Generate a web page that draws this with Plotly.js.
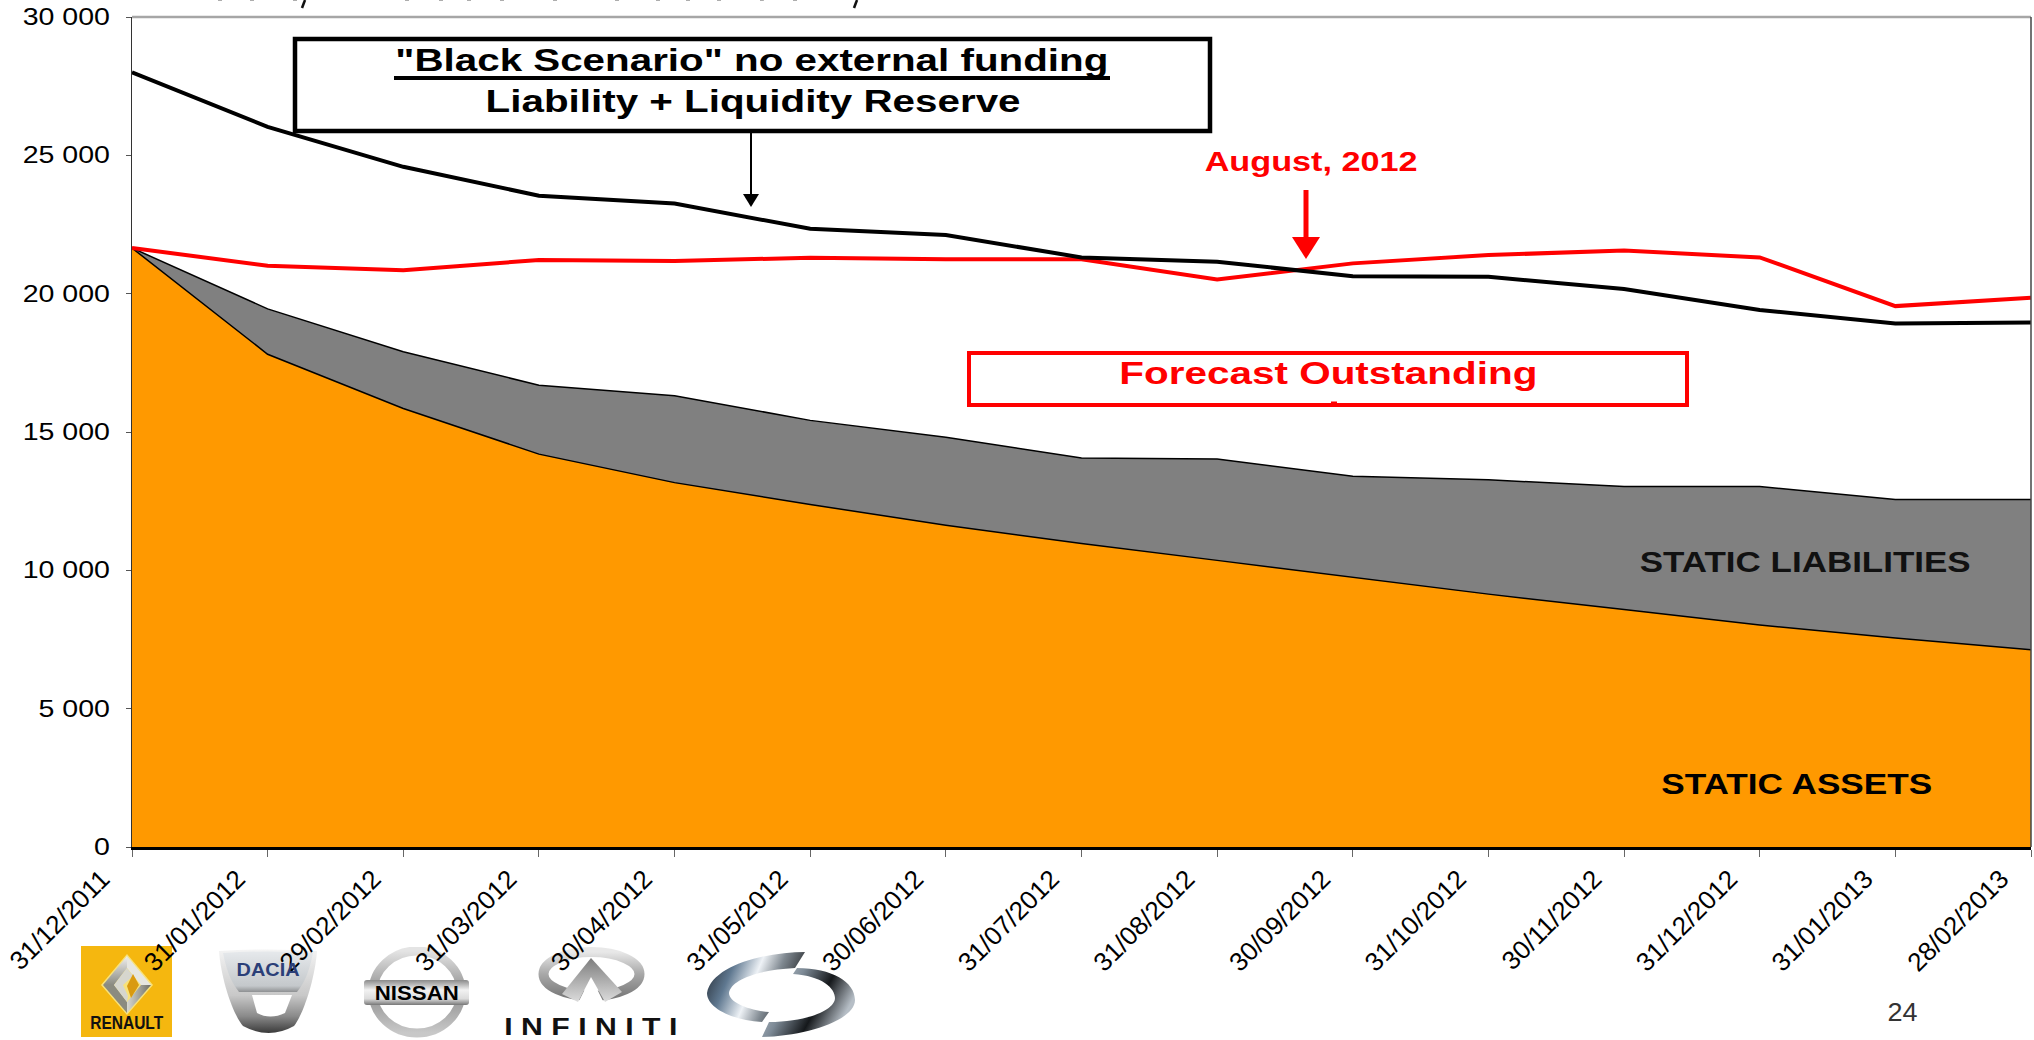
<!DOCTYPE html>
<html>
<head>
<meta charset="utf-8">
<script src="https://cdn.plot.ly/plotly-3.0.1.min.js"></script>
<style>html,body{margin:0;padding:0;background:#fff}#chart{width:2034px;height:1040px}</style>
</head>
<body>
<div id="chart"></div>
<script>
// Month-end reporting dates
const dates = ["31/12/2011","31/01/2012","29/02/2012","31/03/2012","30/04/2012","31/05/2012","30/06/2012","31/07/2012","31/08/2012","30/09/2012","31/10/2012","30/11/2012","31/12/2012","31/01/2013","28/02/2013"];
// Outstanding amounts per date
const staticAssets      = [21650,17810,15850,14200,13170,12380,11630,10970,10360,9750,9140,8580,8020,7550,7130];
const staticLiabilities = [21650,19450,17900,16690,16310,15420,14810,14060,14020,13400,13270,13030,13030,12560,12560];
const forecastOutstanding = [21650,21010,20850,21215,21180,21300,21240,21240,20510,21095,21395,21560,21310,19550,19850];
const blackScenario     = [28000,26030,24585,23540,23260,22345,22120,21310,21155,20630,20610,20165,19410,18925,18960];
const yTickValues = [0,5000,10000,15000,20000,25000,30000];
const yTickLabels = ["0","5 000","10 000","15 000","20 000","25 000","30 000"];

// Frame of the plot area in page pixels, with converters to paper coordinates
const W = 2034, H = 1040, L = 132, R = 2031, T = 17, B = 847;
const px = x => (x - L) / (R - L);
const py = y => (B - y) / (B - T);
const FONT = '"Liberation Sans", Arial, sans-serif';

const line = (x0, y0, x1, y1, color, width) => ({
  type: 'line', xref: 'paper', yref: 'paper', layer: 'above',
  x0: px(x0), x1: px(x1), y0: py(y0), y1: py(y1), line: {color, width}
});
const box = (x0, y0, x1, y1, color, width) => ({
  type: 'rect', xref: 'paper', yref: 'paper', layer: 'above',
  x0: px(x0), x1: px(x1), y0: py(y0), y1: py(y1), fillcolor: '#fff', line: {color, width}
});
const tri = (x, yBase, yTip, half, color) => ({
  type: 'path', xref: 'paper', yref: 'paper', layer: 'above', fillcolor: color, line: {color, width: 0},
  path: `M${px(x - half)},${py(yBase)} L${px(x + half)},${py(yBase)} L${px(x)},${py(yTip)} Z`
});

// Remains of the clipped line of text along the top edge of the slide
const clippedMarks = [218,250,293,405,439,467,500,553,615,656,686,717,760,793].map(x => line(x, 0, x + 4, 0, '#777', 1.2));
clippedMarks.push(line(305, 0, 302, 8, '#111', 2.5), line(857, 0, 854, 8, '#111', 2.5));

const shapes = [
  line(L, T, R, T, '#a6a6a6', 2.5),
  line(R, T, R, B, '#444', 1.5),
  ...clippedMarks,
  box(295, 39, 1210, 131, '#000', 4.5),
  line(394, 78, 1110, 78, '#000', 4),
  line(751, 131, 751, 196, '#000', 2),
  tri(751, 194, 207, 8, '#000'),
  box(969, 353, 1687, 405, '#ff0000', 4),
  line(1331, 402.5, 1337, 402.5, '#ff0000', 2),
  line(1306, 190, 1306, 240, '#ff0000', 5),
  tri(1306, 237, 259, 14, '#ff0000')
];

// Captions: [text, centre x, cap-middle y, size, bold, colour, stretched width]
const captions = [
  ['"Black Scenario" no external funding', 752, 60, 32, true, '#000', 713],
  ['Liability + Liquidity Reserve', 753, 101, 32, true, '#000', 535],
  ['August, 2012', 1311, 161, 28, true, '#ff0000', 213],
  ['Forecast Outstanding', 1328, 373, 32, true, '#ff0000', 418],
  ['STATIC LIABILITIES', 1805, 562, 29, true, '#111', 331],
  ['STATIC ASSETS', 1796, 784, 29, true, '#000', 271],
  ['24', 1902, 1012, 26, false, '#333', 30],
  ['RENAULT', 127, 1023, 19, true, '#111', 73],
  ['DACIA', 268, 969, 19, true, '#2b3f78', 63],
  ['NISSAN', 417, 993, 20, true, '#000', 84],
  ['I N F I N I T I', 591, 1027, 23, true, '#111', 173]
];
const annotations = captions.map(([text, x, y, size, bold, color]) => ({
  text: bold ? `<b>${text}</b>` : text, xref: 'paper', yref: 'paper', x: px(x), y: py(y),
  xanchor: 'center', yanchor: 'middle', showarrow: false, borderpad: 0,
  font: {family: FONT, size, color}
}));

// Brand marks below the axis, as small vector drawings
const svg = (w, h, body) => 'data:image/svg+xml;charset=utf-8,' + encodeURIComponent(
  `<svg xmlns="http://www.w3.org/2000/svg" width="${w}" height="${h}" viewBox="0 0 ${w} ${h}">${body}</svg>`);
const grad = (id, stops, x2 = 0, y2 = 1) => `<linearGradient id="${id}" x1="0" y1="0" x2="${x2}" y2="${y2}">` +
  stops.map(([o, c]) => `<stop offset="${o}" stop-color="${c}"/>`).join('') + '</linearGradient>';

const renaultMark = svg(91, 91, `<defs>${grad('a', [[0,'#f0f0f0'],[1,'#8a8a80']])}${grad('b', [[0,'#d8d8d0'],[1,'#6f6f66']], 1, 0)}</defs>
  <rect width="91" height="91" fill="#f5b70f"/>
  <polygon points="46,8 72,39 46,69 20,39" fill="#f8e27a"/>
  <polygon points="46,10 70,39 60,39 46,22" fill="#e6e6e0"/>
  <polygon points="46,10 22,39 33,39 46,22" fill="url(#a)"/>
  <polygon points="22,39 33,39 46,56 46,67" fill="#8b8b80"/>
  <polygon points="70,39 60,39 46,56 46,67" fill="url(#b)"/>
  <polygon points="33,39 46,22 52,30 42,39 47,50 46,56" fill="#d6d6ce"/>
  <polygon points="52,28 58,39 50,52 46,40" fill="#d99a10"/>`);

const daciaMark = svg(99, 89, `<defs>${grad('a', [[0,'#f4f4f4'],[0.55,'#c8c8c8'],[0.8,'#8a8a8a'],[1,'#3a3a3a']])}${grad('b', [[0,'#e6e9ec'],[0.85,'#c4c8cb'],[1,'#8e9092']])}</defs>
  <path d="M0,3 Q49,0 98,3 C96,30 85,65 75,78 Q50,92 24,78 C13,65 2,30 0,3 Z" fill="url(#a)"/>
  <path d="M33,47 L38,65 Q51,72 66,65 L73,47 Z" fill="#fff"/>
  <path d="M4,5 Q49,2 94,5 C90,25 85,35 78,44 L20,44 C13,35 8,25 4,5 Z" fill="url(#b)"/>`);

const nissanMark = svg(107, 91, `<defs>${grad('a', [[0,'#e4e4e4'],[0.5,'#8f8f8f'],[1,'#c8c8c8']])}${grad('b', [[0,'#8a8a8a'],[0.4,'#f2f2f2'],[0.75,'#dcdcdc'],[1,'#777']])}</defs>
  <ellipse cx="54" cy="45" rx="44" ry="41" fill="none" stroke="url(#a)" stroke-width="9"/>
  <rect x="1" y="33" width="105" height="25" rx="3" fill="url(#b)"/>`);

const infinitiMark = svg(107, 56, `<defs>${grad('a', [[0,'#e8e8e8'],[0.5,'#a8a8a8'],[1,'#7c7c7c']])}${grad('b', [[0,'#7d7d7d'],[1,'#dcdcdc']])}</defs>
  <ellipse cx="53.5" cy="27" rx="48" ry="22" fill="none" stroke="url(#a)" stroke-width="10"/>
  <polygon points="40,56 66,56 53,30" fill="#fff"/>
  <polygon points="53,11 24,47 40,55 53,30" fill="url(#b)"/>
  <polygon points="53,11 84,45 67,55 53,30" fill="url(#b)"/>`);

const samsungMark = svg(150, 88, `<defs>${grad('a', [[0,'#1c2026'],[0.3,'#5f7890'],[0.55,'#eef2f6'],[0.75,'#7f8890'],[1,'#2a2d30']], 1, 0.3)}${grad('b', [[0,'#dfe6ec'],[0.4,'#7d8a96'],[0.7,'#15181b'],[1,'#b6bec6']], 1, 0.4)}</defs>
  <path d="M98,2 C60,2 5,15 0,43 C0,58 25,70 55,72 L62,62 C40,60 22,52 22,43 C24,30 50,20 88,18 Z" fill="url(#a)"/>
  <path d="M90,18 C125,18 148,32 148,50 C148,70 100,86 55,87 L62,72 C100,72 128,60 128,48 C128,38 115,26 86,24 Z" fill="url(#b)"/>`);

const placeImage = (source, x0, y0, x1, y1) => ({
  source, xref: 'paper', yref: 'paper', x: px(x0), y: py(y0),
  sizex: (x1 - x0) / (R - L), sizey: (y1 - y0) / (B - T),
  xanchor: 'left', yanchor: 'top', sizing: 'stretch', layer: 'below'
});
const images = [
  placeImage(renaultMark, 81, 946, 172, 1037),
  placeImage(daciaMark, 219, 948, 318, 1037),
  placeImage(nissanMark, 363, 947, 470, 1038),
  placeImage(infinitiMark, 538, 947, 645, 1003),
  placeImage(samsungMark, 707, 950, 857, 1038)
];

const traces = [
  {name: 'Static liabilities', x: dates, y: staticLiabilities, type: 'scatter', mode: 'lines', fill: 'tozeroy', fillcolor: '#808080', line: {color: '#000', width: 1.5}},
  {name: 'Static assets', x: dates, y: staticAssets, type: 'scatter', mode: 'lines', fill: 'tozeroy', fillcolor: '#ff9900', line: {color: '#000', width: 1.5}},
  {name: 'Forecast outstanding', x: dates, y: forecastOutstanding, type: 'scatter', mode: 'lines', line: {color: '#ff0000', width: 4}},
  {name: 'Black scenario', x: dates, y: blackScenario, type: 'scatter', mode: 'lines', line: {color: '#000', width: 4}}
];

const layout = {
  width: W, height: H, autosize: false, showlegend: false,
  paper_bgcolor: '#fff', plot_bgcolor: 'rgba(0,0,0,0)',
  margin: {l: L, r: W - R, t: T, b: H - B, pad: 0},
  font: {family: FONT, color: '#000'},
  xaxis: {
    type: 'category', range: [0, 14], tickmode: 'array', tickvals: dates, ticktext: dates,
    tickangle: -45, tickfont: {family: FONT, size: 26, color: '#000'},
    ticks: 'outside', ticklen: 7, tickwidth: 1, tickcolor: '#666',
    ticklabelshift: -30, ticklabelstandoff: -3,
    showline: true, linecolor: '#000', linewidth: 2.5, showgrid: false, zeroline: false, automargin: false
  },
  yaxis: {
    range: [0, 30000], tickmode: 'array', tickvals: yTickValues, ticktext: yTickLabels,
    tickfont: {family: FONT, size: 23, color: '#000'},
    ticks: 'outside', ticklen: 5, tickwidth: 1, tickcolor: '#555',
    ticklabelstandoff: 11,
    showline: true, linecolor: '#333', linewidth: 1.5, showgrid: false, zeroline: false, automargin: false
  },
  shapes, annotations, images
};

// The slide was widened when exported, so horizontal text runs wider than its font
function widenText(gd) {
  gd.querySelectorAll('.annotation-text').forEach((el, i) => {
    el.setAttribute('textLength', captions[i][6]);
    el.setAttribute('lengthAdjust', 'spacingAndGlyphs');
  });
  gd.querySelectorAll('.ytick text').forEach(el => {
    el.setAttribute('textLength', el.getComputedTextLength() * 1.24);
    el.setAttribute('lengthAdjust', 'spacingAndGlyphs');
  });
}

Plotly.newPlot('chart', traces, layout, {staticPlot: true, displayModeBar: false}).then(widenText);
</script>
</body>
</html>
